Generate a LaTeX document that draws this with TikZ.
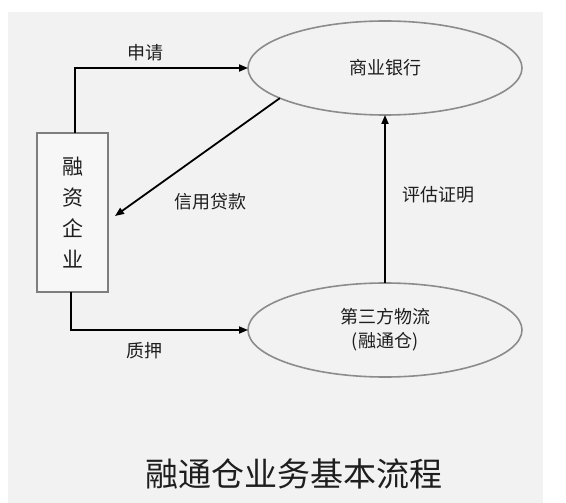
\documentclass[tikz,border=0pt]{standalone}
\usepackage{fontspec}
\setmainfont{Noto Sans CJK SC}
\usetikzlibrary{shapes.geometric,arrows.meta}
\definecolor{panel}{HTML}{F2F2F2}
\definecolor{edgegray}{HTML}{8C8C8C}
\definecolor{ink}{HTML}{1E1E1E}
\tikzset{
  oval/.style={ellipse,draw=edgegray,line width=1.6pt,fill=panel,minimum width=274pt,minimum height=94pt,inner sep=0pt,outer sep=0pt,text=ink,font=\fontsize{18}{24}\selectfont,align=center},
  firmbox/.style={rectangle,draw=edgegray!90!black,line width=1.4pt,fill=panel!60!white,minimum width=71pt,minimum height=159pt,inner sep=0pt,outer sep=0pt,text=ink,font=\fontsize{21}{31}\selectfont,align=center},
  flow/.style={draw=black,line width=1.8pt,-{Triangle[length=9pt,width=7pt]}},
  lbl/.style={text=ink,font=\fontsize{18}{22}\selectfont,inner sep=0pt}
}
\begin{document}
\begin{tikzpicture}[x=1pt,y=-1pt]
\useasboundingbox (0,0) rectangle (566,503);
\fill[white] (0,0) rectangle (566,503);
\fill[panel] (8,12) rectangle (543,503);
\node[oval] (bank) at (385,68) {商业银行};
\node[oval] (wl) at (385,330) {第三方物流\\(融通仓)};
\node[firmbox] (firm) at (72.5,212.5) {融\\资\\企\\业};
\coordinate (loanend) at (115,216);
\draw[flow] ([xshift=2.5pt]firm.north) |- (bank.west);
\draw[flow] (bank.196) -- (loanend);
\draw[flow] (wl.north) -- (bank.south);
\draw[flow] ([xshift=-1.5pt]firm.south) |- (wl.west);
\node[lbl] (l1) at (145,53) {申请};
\node[lbl] (l2) at (210,202) {信用贷款};
\node[lbl] (l3) at (438,195) {评估证明};
\node[lbl] (l4) at (144,351) {质押};
\node[text=ink,font=\fontsize{33}{40}\selectfont,inner sep=0pt] (title) at (294,474) {融通仓业务基本流程};
\end{tikzpicture}
\end{document}
